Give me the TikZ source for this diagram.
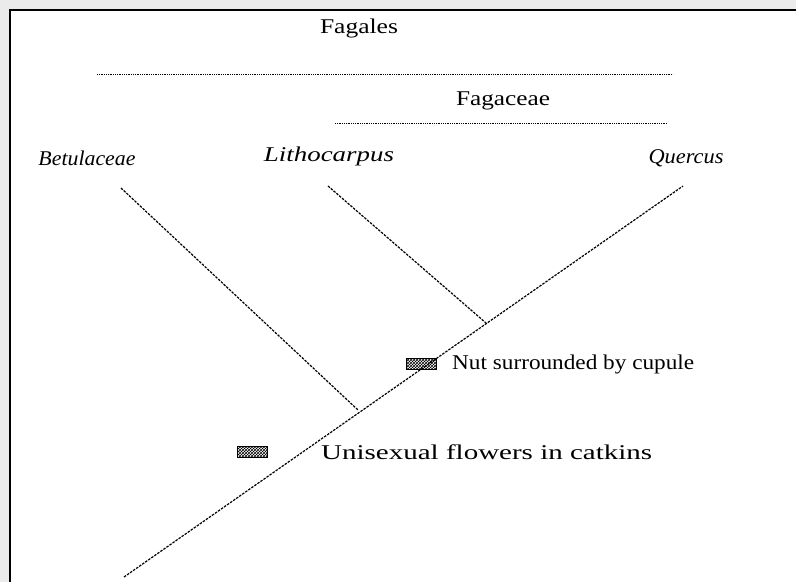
\documentclass[tikz,border=0pt]{standalone}
\usepackage{fontspec}
\usepackage{graphicx}
\setmainfont{Liberation Serif}
\usetikzlibrary{patterns}
\newcommand{\fitw}[2]{\resizebox{#1}{\height}{#2}}
\begin{document}
\begin{tikzpicture}[x=1pt,y=-1pt,
  lbl/.style={inner sep=0pt,font=\fontsize{21}{24}\selectfont},
  taxon/.style={inner sep=0pt,font=\fontsize{21}{24}\selectfont\itshape},
  branch/.style={line width=1.2pt,dash pattern=on 2.5pt off 1.2pt},
  group/.style={line width=1pt,dash pattern=on 1pt off 0.8pt},
  marker/.style={draw,line width=0.9pt,minimum width=30pt,minimum height=11pt,inner sep=0pt,pattern=crosshatch,pattern color=black}]
\useasboundingbox (0,0) rectangle (796,582);
\fill[black!8] (0,0) rectangle (796,582);
\fill[white] (9,9) rectangle (796,582);
\draw[line width=1.5pt] (9.75,582) -- (9.75,9.75) -- (796,9.75);
% group labels
\node[lbl] (fagales) at (359,28) {\fitw{78pt}{Fagales}};
\coordinate (fgL) at (97,74);
\coordinate (fgR) at (673,74);
\draw[group] (fgL) -- (fgR);
\node[lbl] (fagaceae) at (503,101) {\fitw{94pt}{Fagaceae}};
\coordinate (fcL) at (335,123);
\coordinate (fcR) at (667,123);
\draw[group] (fcL) -- (fcR);
% taxa
\node[taxon] (bet) at (87,158) {\fitw{97pt}{Betulaceae}};
\node[taxon] (lith) at (329,156) {\fitw{130pt}{Lithocarpus}};
\node[taxon] (quer) at (686,158) {\fitw{75pt}{Quercus}};
% tree
\coordinate (root) at (124,577);
\coordinate (qtip) at (683,186);
\coordinate (btip) at (121,188);
\coordinate (ltip) at (328,186);
\coordinate (n1) at (358,410);
\coordinate (n2) at (486,323);
\draw[branch] (root) -- (qtip);
\draw[branch] (btip) -- (n1);
\draw[branch] (ltip) -- (n2);
% characters
\node[marker] (m1) at (421,364) {};
\node[lbl,anchor=west] (c1) at (452,364) {\fitw{242pt}{Nut surrounded by cupule}};
\node[marker] (m2) at (252,452) {};
\node[lbl,anchor=west] (c2) at (321,452) {\fitw{331pt}{Unisexual flowers in catkins}};
\end{tikzpicture}
\end{document}
